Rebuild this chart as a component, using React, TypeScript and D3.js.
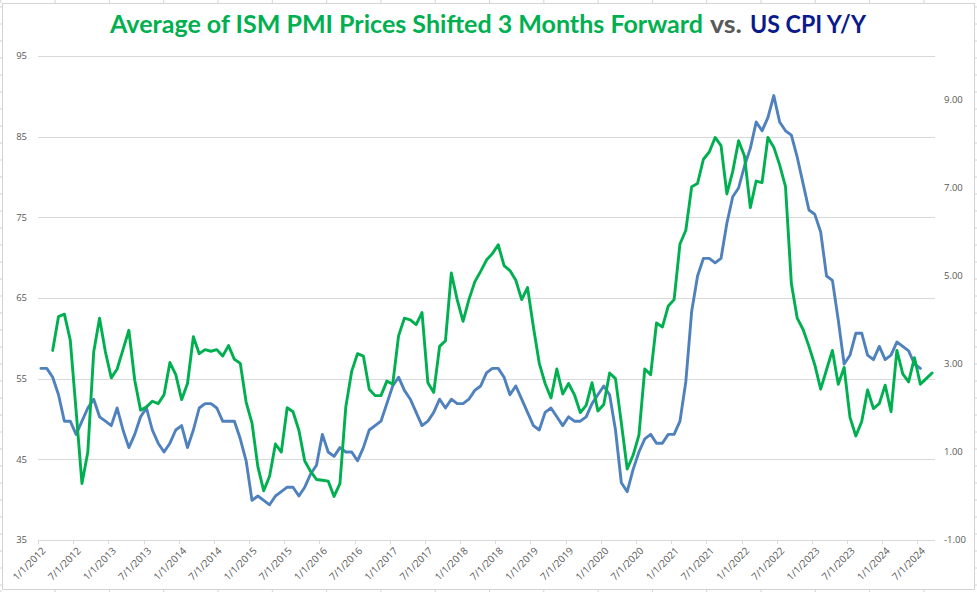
import React from "react";
import * as d3 from "d3";

// ---- data ----
const startYear = 2012; // first month: Jan 2012
const monthCount = 153; // Jan 2012 .. Sep 2024

// US CPI Y/Y (%), Jan 2012 .. Jul 2024 (right axis)
const cpiYoY = [
  2.9, 2.9, 2.7, 2.3, 1.7, 1.7, 1.4, 1.7, 2.0, 2.2, 1.8, 1.7,
  1.6, 2.0, 1.5, 1.1, 1.4, 1.8, 2.0, 1.5, 1.2, 1.0, 1.2, 1.5,
  1.6, 1.1, 1.5, 2.0, 2.1, 2.1, 2.0, 1.7, 1.7, 1.7, 1.3, 0.8,
  -0.1, 0.0, -0.1, -0.2, 0.0, 0.1, 0.2, 0.2, 0.0, 0.2, 0.5, 0.7,
  1.4, 1.0, 0.9, 1.1, 1.0, 1.0, 0.8, 1.1, 1.5, 1.6, 1.7, 2.1,
  2.5, 2.7, 2.4, 2.2, 1.9, 1.6, 1.7, 1.9, 2.2, 2.0, 2.2, 2.1,
  2.1, 2.2, 2.4, 2.5, 2.8, 2.9, 2.9, 2.7, 2.3, 2.5, 2.2, 1.9,
  1.6, 1.5, 1.9, 2.0, 1.8, 1.6, 1.8, 1.7, 1.7, 1.8, 2.1, 2.3,
  2.5, 2.3, 1.5, 0.3, 0.1, 0.6, 1.0, 1.3, 1.4, 1.2, 1.2, 1.4,
  1.4, 1.7, 2.6, 4.2, 5.0, 5.4, 5.4, 5.3, 5.4, 6.2, 6.8, 7.0,
  7.5, 7.9, 8.5, 8.3, 8.6, 9.1, 8.5, 8.3, 8.2, 7.7, 7.1, 6.5,
  6.4, 6.0, 5.0, 4.9, 4.0, 3.0, 3.2, 3.7, 3.7, 3.2, 3.1, 3.4,
  3.1, 3.2, 3.5, 3.4, 3.3, 3.0, 2.9,
];

// Average of ISM PMI Prices shifted 3 months forward, Mar 2012 .. Sep 2024 (left axis)
const pmiStartMonth = 2; // Mar 2012
const pmiPrices = [
  58.5, 62.7, 63.0, 59.8, 51.0, 42.0, 45.9, 58.3, 62.5, 58.3,
  55.1, 56.2, 58.6, 61.0, 54.8, 51.1, 51.5, 52.2, 51.9, 53.0, 57.0, 55.5,
  52.4, 54.4, 60.2, 58.1, 58.6, 58.4, 58.6, 57.8, 59.1, 57.4, 56.9, 52.1,
  49.5, 44.1, 41.1, 42.9, 46.9, 45.9, 51.4, 50.9, 48.6, 44.8, 43.5, 42.5,
  42.4, 42.3, 40.4, 42.0, 51.5, 55.9, 58.1, 57.8, 53.7, 52.9, 52.9, 54.7,
  54.3, 60.3, 62.5, 62.3, 61.7, 63.2, 54.5, 53.3, 59.0, 59.7, 68.1, 64.8,
  62.1, 64.8, 67.0, 68.3, 69.7, 70.5, 71.6, 69.0, 68.4, 67.2, 64.8, 66.3,
  61.4, 56.9, 54.4, 52.6, 56.2, 53.1, 54.4, 53.0, 50.8, 51.7, 54.5, 51.0,
  51.8, 55.7, 55.0, 49.5, 43.8, 45.5, 48.0, 56.2, 55.5, 61.9, 61.4, 64.0,
  64.8, 71.7, 73.4, 78.8, 79.2, 82.2, 83.1, 84.9, 83.9, 77.9, 80.7, 84.5,
  82.6, 76.2, 79.5, 79.3, 84.9, 83.7, 81.5, 78.8, 66.8, 62.5, 61.1, 59.0,
  56.7, 53.7, 56.1, 58.5, 54.3, 56.4, 50.2, 47.9, 49.7, 53.6, 51.3, 51.9,
  54.2, 50.9, 58.5, 55.6, 54.6, 57.6, 54.3, 55.0, 55.7,
];

const leftTicks = [35, 45, 55, 65, 75, 85, 95];
const rightTicks = [-1, 1, 3, 5, 7, 9];
const labelEvery = 6; // months between x labels

const titleParts = [
  { text: "Average of ISM PMI Prices Shifted 3 Months Forward", color: "#00B050" },
  { text: "vs.", color: "#595959" },
  { text: "US CPI Y/Y", color: "#0A1A8C" },
];

const W = 977;
const H = 592;

export default function App() {
  const left = 38, right = 935, top = 56, bottom = 540;
  const x = d3.scaleLinear().domain([-0.5, monthCount - 0.5]).range([left, right]);
  const yL = d3.scaleLinear().domain([35, 95]).range([bottom, top]);
  const yR = d3.scaleLinear().domain([-1, 10]).range([bottom, top]);

  const cpiLine = d3
    .line<number>()
    .x((_, i) => x(i))
    .y((d) => yR(d));
  const pmiLine = d3
    .line<number>()
    .x((_, i) => x(i + pmiStartMonth))
    .y((d) => yL(d));

  const labelIdx = d3.range(0, monthCount - 2, labelEvery);
  const tickIdx = d3.range(0, monthCount + 1, labelEvery);
  const labelText = (i: number) => {
    const yr = startYear + Math.floor(i / 12);
    const mo = (i % 12) + 1;
    return `${mo}/1/${yr}`;
  };

  const small = "'Open Sans', sans-serif";
  const colStubs = d3.range(0, 18).map((k) => 0.8 + k * 54.3);
  const rowStubs = d3.range(0, 35).map((k) => 7 + k * 17);

  return (
    <div style={{ position: "absolute", left: 0, top: 0 }}>
      <svg width={W} height={H} style={{ display: "block", background: "#fff" }}>
        {/* worksheet cell-grid remnants & chart border */}
        <g stroke="#D4D4D4" strokeWidth={1}>
          {colStubs.map((cx, k) => (
            <g key={"c" + k}>
              <line x1={cx} x2={cx} y1={0} y2={3} />
              <line x1={cx} x2={cx} y1={590} y2={592} />
            </g>
          ))}
          {rowStubs.map((ry, k) => (
            <g key={"r" + k}>
              <line x1={0} x2={2} y1={ry} y2={ry} />
              <line x1={975} x2={977} y1={ry} y2={ry} />
            </g>
          ))}
          <rect x={2.5} y={3.5} width={972} height={586} fill="none" />
        </g>

        {/* gridlines */}
        <g stroke="#D9D9D9" strokeWidth={1}>
          {leftTicks.map((t) => (
            <line key={t} x1={left} x2={right} y1={Math.round(yL(t)) + 0.5} y2={Math.round(yL(t)) + 0.5} />
          ))}
          {tickIdx.map((i) => {
            const tx = Math.round(x(i - 0.5)) + 0.5;
            return <line key={"t" + i} x1={tx} x2={tx} y1={bottom} y2={bottom + 4} />;
          })}
        </g>

        {/* left axis labels */}
        <g fontFamily={small} fontSize={9.5} fill="#595959" textAnchor="end">
          {leftTicks.map((t) => (
            <text key={t} x={27} y={yL(t)} dy="0.35em">
              {t}
            </text>
          ))}
        </g>
        {/* right axis labels */}
        <g fontFamily={small} fontSize={9.5} fill="#595959" textAnchor="start">
          {rightTicks.map((t) => (
            <text key={t} x={944} y={yR(t)} dy="0.35em">
              {t.toFixed(2)}
            </text>
          ))}
        </g>
        {/* x axis labels */}
        <g fontFamily={small} fontSize={10} fill="#595959" textAnchor="end">
          {labelIdx.map((i) => {
            const lx = x(i) + 3;
            const ly = 549;
            return (
              <text key={i} transform={`translate(${lx},${ly}) rotate(-45)`} dy="0.35em">
                {labelText(i)}
              </text>
            );
          })}
        </g>

        {/* series */}
        <path d={cpiLine(cpiYoY) || ""} fill="none" stroke="#4F81BD" strokeWidth={2.9} strokeLinejoin="round" strokeLinecap="round" />
        <path d={pmiLine(pmiPrices) || ""} fill="none" stroke="#00B050" strokeWidth={2.9} strokeLinejoin="round" strokeLinecap="round" />

        {/* title */}
        <g fontFamily="Lato, 'Open Sans', sans-serif" fontWeight="bold" fontSize={24}>
          <text x={110} y={33} fill={titleParts[0].color} textLength={593} lengthAdjust="spacingAndGlyphs">
            {titleParts[0].text}
          </text>
          <text x={710} y={33} fill={titleParts[1].color} textLength={32} lengthAdjust="spacingAndGlyphs">
            {titleParts[1].text}
          </text>
          <text x={750} y={33} fill={titleParts[2].color} textLength={116} lengthAdjust="spacingAndGlyphs">
            {titleParts[2].text}
          </text>
        </g>
      </svg>
    </div>
  );
}
